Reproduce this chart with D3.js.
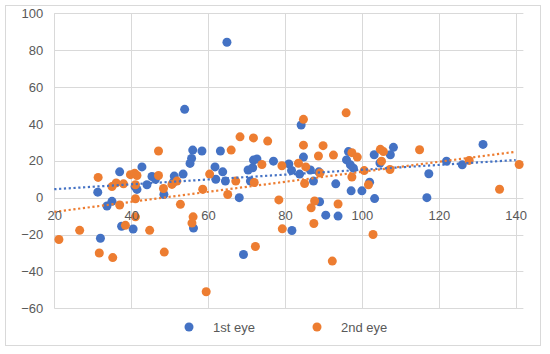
<!DOCTYPE html>
<html>
<head>
<meta charset="utf-8">
<script src="https://cdn.jsdelivr.net/npm/d3@7"></script>
<style>
	body { margin: 0; background: #fff; }
	svg text { font-family: "Liberation Sans", Arial, sans-serif; fill: #595959; }
</style>
</head>
<body>
<div id="chart"></div>
<script>

// series: 1st eye (x, y)
var eye1X = [31.3, 33.7, 35, 37, 32, 37.5, 40.5, 42.8, 41, 41.5, 44.1, 45.4, 46.3, 48.5, 51.2, 51, 53.5, 53.9,
	56, 58.4, 55.7, 55.3, 63.2, 61.8, 63.8, 62, 64.5, 64.9, 68.1, 70.4, 71.8, 72.7, 71.6, 71, 77, 81, 81.7,
	83.8, 84.2, 84.8, 86.6, 88.8, 87.4, 93.2, 96, 96.5, 97, 97.8, 97.2, 100, 102, 103.2, 104.7, 107.4, 108.2,
	103.3, 89, 81.8, 90.6, 93.8, 116.9, 117.4, 122, 126.1, 131.5, 56.2, 69.2];
var eye1Y = [3, -4.5, -2, 14, -22, -15.5, -17, 16.7, 6, 4.5, 7, 11.5, 10, 1.7, 11.7, 8.5, 12.8, 47.9,
	25.8, 25.3, 21.3, 18.6, 25.3, 16.7, 14, 10, 9, 84.3, 0, 15, 20.4, 21, 16.2, 9, 19.8, 18.3, 14.8,
	12.8, 39.4, 22, 15, 14, 9, 7.5, 20.5, 25, 17.8, 16, 3.7, 3.7, 8.4, 23.3, 18.8, 23.3, 27.3,
	-0.5, -2.2, -17.8, -9.5, -10, 0, 13, 19.8, 17.8, 28.9, -16.5, -30.8];

// series: 2nd eye (x, y)
var eye2X = [21.2, 26.6, 31.4, 31.7, 35.2, 35, 36.1, 37, 38, 38.5, 39.8, 40.9, 41.5, 41.1, 41.1, 41.1, 44.8,
	47.1, 47.1, 48.4, 48.6, 50.6, 51.9, 52.8, 56.1, 55.8, 58.6, 60.4, 59.5, 65.1, 66, 67.2, 68.3, 71.8, 72,
	72.3, 74, 75.5, 78.4, 79.2, 79.3, 83.5, 84.8, 84.8, 85.4, 85.1, 86.8, 87.7, 87.5, 88.7, 89.1, 89.9, 92.6,
	92.3, 93.8, 95.9, 97.4, 98.8, 97.4, 100.6, 101.7, 102.9, 104.8, 105.6, 105.1, 107.3, 115, 127.9, 135.8, 140.9];
var eye2Y = [-22.7, -17.7, 11, -30, -32.5, 6, 8, -4, 7.5, -15, 12.5, 13.2, 12, 7, -0.6, -10.4, -17.7,
	25.3, 12, 5, -29.5, 7.2, 9, -3.6, -10.4, -13.8, 4.6, 12.8, -51, 1.7, 25.8, 9, 33, 32.4, 8.2,
	-26.5, 18, 30.7, -1.2, 17.3, -16.9, 18.7, 42.5, 28.5, 16.7, 7.7, -5.5, -1.8, -14, 22.6, 13.4, 28.2, 23.1,
	-34.4, -3.4, 46, 24.4, 22, 11.2, 14.7, 7, -20, 26.2, 25, 19.8, 15.3, 26, 20.2, 4.6, 18];

// linear trend lines (ends read at x = 20 and x = 140)
var trendX = [20, 140];
var trend1Y = [4.6, 20.4];
var trend2Y = [-7.7, 24.9];

var xTicks = [20, 40, 60, 80, 100, 120, 140];
var yTicks = [-60, -40, -20, 0, 20, 40, 60, 80, 100];
var legendNames = ["1st eye", "2nd eye"];
var colors = ["#4472C4", "#ED7D31"];

var width = 550, height = 354;

var svg = d3.select("#chart").append("svg")
	.attr("width", width)
	.attr("height", height);

// chart border
svg.append("rect")
	.attr("x", 5.5).attr("y", 5.5)
	.attr("width", 535).attr("height", 340)
	.attr("fill", "#fff")
	.attr("stroke", "#d9d9d9");

var xScale = d3.scaleLinear().domain([20, 140]).range([54.3, 515.7]);
var yScale = d3.scaleLinear().domain([-60, 100]).range([308.3, 13.3]);
var xRight = xScale(142);

// gridlines
var grid = svg.append("g");
grid.selectAll("line.h").data(yTicks).enter().append("line")
	.attr("class", "h")
	.attr("x1", xScale(20)).attr("x2", xRight)
	.attr("y1", function(d){ return Math.round(yScale(d)) + 0.5 })
	.attr("y2", function(d){ return Math.round(yScale(d)) + 0.5 })
	.attr("stroke", "#d9d9d9");
grid.selectAll("line.v").data(xTicks).enter().append("line")
	.attr("class", "v")
	.attr("x1", function(d){ return Math.round(xScale(d)) + 0.5 })
	.attr("x2", function(d){ return Math.round(xScale(d)) + 0.5 })
	.attr("y1", yScale(100)).attr("y2", yScale(-60))
	.attr("stroke", "#d9d9d9");

// y axis labels
var yAxis = d3.axisLeft(yScale).tickValues(yTicks).tickSize(0).tickPadding(11);
svg.append("g")
	.attr("class", "y axis")
	.attr("transform", "translate(" + xScale(20) + ",0)")
	.call(yAxis)
	.call(function(g){ g.select(".domain").remove(); })
	.selectAll("text")
		.style("font-size", "13px")
		.style("fill", "#595959");

// series points
var g = svg.append("g");
[[eye1X, eye1Y], [eye2X, eye2Y]].forEach(function(s, k){
	g.append("g").selectAll("circle")
		.data(s[0]).enter()
		.append("circle")
		.attr("cx", function(d){ return xScale(d) })
		.attr("cy", function(d, i){ return yScale(s[1][i]) })
		.attr("r", 4.5)
		.attr("fill", colors[k]);
});

// trend lines
var line = d3.line()
	.x(function(d){ return xScale(d[0]) })
	.y(function(d){ return yScale(d[1]) });
[trend1Y, trend2Y].forEach(function(t, k){
	svg.append("path")
		.datum(trendX.map(function(x, i){ return [x, t[i]] }))
		.attr("d", line)
		.attr("fill", "none")
		.attr("stroke", colors[k])
		.attr("stroke-width", 2.2)
		.attr("stroke-dasharray", "2.2,2.6");
});

// x axis labels, sitting on the y=0 line
var xAxis = d3.axisBottom(xScale).tickValues(xTicks).tickSize(0).tickPadding(13);
svg.append("g")
	.attr("class", "x axis")
	.attr("transform", "translate(0," + yScale(0) + ")")
	.call(xAxis)
	.call(function(g){ g.select(".domain").remove(); })
	.selectAll("text")
		.style("font-size", "13px")
		.style("fill", "#595959");

// legend
var legX = [189, 317];
var leg = svg.append("g");
legendNames.forEach(function(name, k){
	leg.append("circle")
		.attr("cx", legX[k]).attr("cy", 327)
		.attr("r", 4.5)
		.attr("fill", colors[k]);
	leg.append("text")
		.attr("x", legX[k] + 24).attr("y", 331.5)
		.style("font-size", "13px")
		.text(name);
});

</script>
</body>
</html>
